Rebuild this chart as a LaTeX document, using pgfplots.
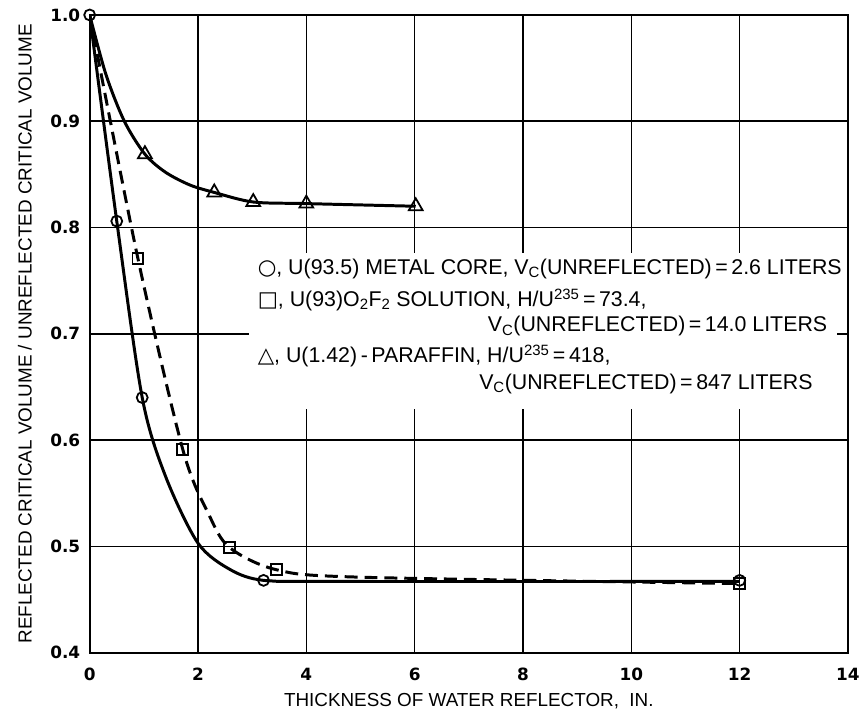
\documentclass[border=0pt]{standalone}
\usepackage{fontspec}
\setmainfont{Liberation Sans}
\newfontfamily\sym{DejaVu Sans}
\newfontfamily\tickfont{DejaVu Sans}
\usepackage{pgfplots}
\pgfplotsset{compat=1.18}

\begin{document}
\begin{tikzpicture}
\begin{axis}[
  scale only axis,
  width=761bp, height=640bp,
  xmin=0, xmax=14, ymin=0.4, ymax=1.0,
  xtick={0,2,...,14},
  ytick={0.4,0.5,...,1.0},
  grid=major,
  grid style={black, line width=1.6pt},
  axis line style={black, line width=2pt},
  major tick length=0pt,
  tick label style={font=\fontsize{17}{18}\selectfont\tickfont\bfseries},
  /pgf/number format/assume math mode=true,
  yticklabel style={/pgf/number format/fixed, /pgf/number format/fixed zerofill,
    /pgf/number format/precision=1, xshift=-6bp},
  xticklabel style={yshift=-12bp},
  every axis plot/.append style={black},
]

% fitted curves, points
\addplot[line width=3pt, smooth] coordinates {
 (0,1.0) (0.5,0.806) (0.97,0.640) (1.4,0.566) (2.0,0.503)
 (2.6,0.478) (3.21,0.468) (4.5,0.467) (12,0.467)
};
\addplot[line width=3pt, smooth, dash pattern=on 13pt off 7pt] coordinates {
 (0,1.0) (0.89,0.771) (1.72,0.591) (2.2,0.530) (2.58,0.499)
 (3.45,0.478) (5,0.471) (12,0.465)
};
\addplot[line width=3pt, smooth] coordinates {
 (0,1.0) (0.3,0.944) (0.64,0.900) (1.02,0.869) (1.4,0.852) (1.85,0.840)
 (2.3,0.833) (3.02,0.824) (4.0,0.8225) (6.02,0.820)
};

% measured points
\addplot[only marks, mark=o, mark size=5.5pt, mark options={fill=white, line width=1.8pt}] coordinates {
 (0,1.0) (0.5,0.806) (0.97,0.640) (3.21,0.468) (12,0.468)
};
\addplot[only marks, mark=square, mark size=5.5pt, mark options={fill=white, line width=1.8pt}] coordinates {
 (0.89,0.771) (1.72,0.591) (2.58,0.499) (3.45,0.478) (12,0.465)
};
\addplot[only marks, mark=triangle, mark size=8pt, mark options={fill=white, line width=1.8pt}] coordinates {
 (1.02,0.869) (2.3,0.833) (3.02,0.824) (4.0,0.8225) (6.02,0.820)
};

% key, on a white patch that breaks the grid
\fill[white] (axis cs:2.95,0.629) rectangle (axis cs:13.8,0.776);
\begin{scope}[every node/.style={font=\fontsize{21.5}{21}\selectfont, inner sep=0pt}]
\node[anchor=west] at (axis cs:3.1,0.761) {{\sym ○}, U(93.5) METAL CORE, V\textsubscript{C}(UNREFLECTED)\,=\,2.6 LITERS};
\node[anchor=west] at (axis cs:3.1,0.732) {{\sym □}, U(93)O\textsubscript{2}F\textsubscript{2} SOLUTION, H/U\textsuperscript{235}\,=\,73.4,};
\node[anchor=east] at (axis cs:13.62,0.707) {V\textsubscript{C}(UNREFLECTED)\,=\,14.0 LITERS};
\node[anchor=west] at (axis cs:3.1,0.679) {{\sym △}, U(1.42)\,-\,PARAFFIN, H/U\textsuperscript{235}\,=\,418,};
\node[anchor=east] at (axis cs:13.35,0.653) {V\textsubscript{C}(UNREFLECTED)\,=\,847 LITERS};
\end{scope}
\end{axis}

\node[rotate=90, font=\fontsize{19}{19}\selectfont] at ([xshift=-65bp]current axis.west)
  {REFLECTED CRITICAL VOLUME / UNREFLECTED CRITICAL VOLUME};
\node[font=\fontsize{19}{19}\selectfont] at ([yshift=-49bp]current axis.south)
  {THICKNESS OF WATER REFLECTOR,\ \ IN.};
\path ([xshift=-90bp,yshift=-59bp]current axis.south west) rectangle ([xshift=12bp,yshift=15bp]current axis.north east);
\end{tikzpicture}
\end{document}
